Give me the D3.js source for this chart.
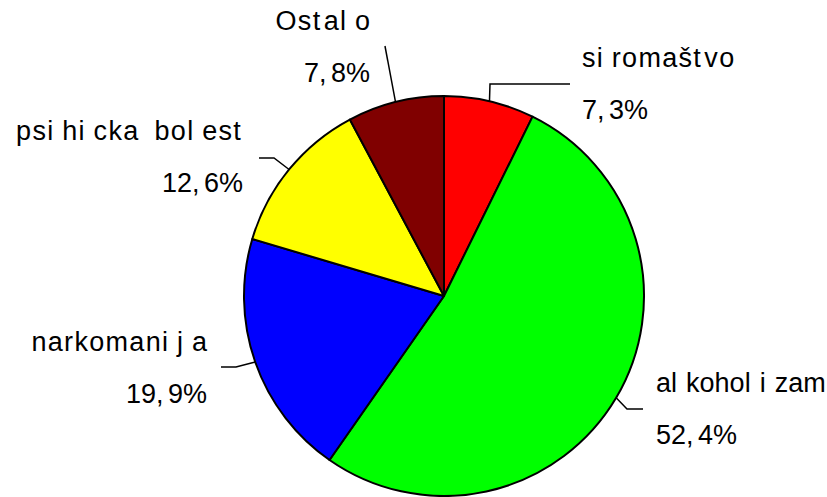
<!DOCTYPE html>
<html>
<head>
<meta charset="utf-8">
<script src="https://cdn.jsdelivr.net/npm/d3@7"></script>
<style>
  body { margin: 0; background: #fff; }
  text { font-family: "Liberation Sans", Arial, sans-serif; font-size: 27px; fill: #000; }
</style>
</head>
<body>
<script>
const categories = ["siromaštvo", "alkoholizam", "narkomanija", "psihicka bolest", "Ostalo"];
const values = [7.3, 52.4, 19.9, 12.6, 7.8];
const colors = ["#ff0000", "#00ff00", "#0000ff", "#ffff00", "#800000"];

// label placement: text anchor side, text x, name baseline, leader elbow points
const labelLayout = [
  { anchor: "start", x: 582, y: 67, leader: [[490, 84], [570, 84]] },
  { anchor: "start", x: 656, y: 392, leader: [[627, 409], [643, 409]] },
  { anchor: "end", x: 207, y: 351, leader: [[236, 367], [221, 367]] },
  { anchor: "end", x: 243, y: 140, leader: [[274, 158], [259, 158]] },
  { anchor: "end", x: 370, y: 30, leader: [[385, 46]] }
];

const width = 827, height = 497;
const cx = 444, cy = 296, r = 200;

const svg = d3.select("body")
  .append("svg")
  .attr("width", width)
  .attr("height", height);

const data = categories.map((c, i) => ({ name: c, value: values[i], color: colors[i] }));

const pie = d3.pie().value((d) => d.value).sort(null);
const arc = d3.arc().innerRadius(0).outerRadius(r);
const arcs = pie(data);

const g = svg.append("g").attr("transform", `translate(${cx},${cy})`);

g.selectAll("path")
  .data(arcs)
  .enter()
  .append("path")
  .attr("d", arc)
  .attr("fill", (d) => d.data.color)
  .attr("stroke", "#000")
  .attr("stroke-width", 2)
  .attr("stroke-linejoin", "round");

// leader lines from rim at mid angle
const line = d3.line();
svg.selectAll("path.leader")
  .data(arcs)
  .enter()
  .append("path")
  .attr("class", "leader")
  .attr("fill", "none")
  .attr("stroke", "#000")
  .attr("stroke-width", 1.5)
  .attr("d", (d, i) => {
    const a = (d.startAngle + d.endAngle) / 2;
    const p0 = [cx + r * Math.sin(a), cy - r * Math.cos(a)];
    return line([p0].concat(labelLayout[i].leader));
  });

const fmt = (v) => v.toFixed(1).replace(".", ",") + "%";

// measure glyph widths
const probe = svg.append("text").attr("x", -1000).attr("y", -1000);
const widthCache = {};
function charWidth(ch) {
  if (widthCache[ch] === undefined) {
    probe.text(ch === " " ? "\u00a0" : ch);
    widthCache[ch] = probe.node().getComputedTextLength();
  }
  return widthCache[ch];
}

// the original renderer pads narrow glyphs out to a wider cell
function advances(chars, spacing, cells) {
  return chars.map((c) => cells[c] !== undefined ? Math.max(charWidth(c), cells[c]) : charWidth(c) + spacing);
}

function drawLabel(str, x, y, anchor, spacing, cells) {
  const chars = Array.from(str);
  let adv = advances(chars, spacing, cells);
  let total = d3.sum(adv) - spacing;
  // keep the text inside the right edge
  while (anchor === "start" && x + total > width - 4 && spacing > 0) {
    spacing = Math.max(0, spacing - 0.1);
    adv = advances(chars, spacing, cells);
    total = d3.sum(adv) - spacing;
  }
  let pos = anchor === "end" ? x - total : x;
  const t = svg.append("text").attr("y", y);
  chars.forEach((c, k) => {
    t.append("tspan").attr("x", pos).text(c === " " ? "\u00a0" : c);
    pos += adv[k];
  });
}

const nameCells = { i: 15, l: 15, j: 15, " ": 15, t: 11 };
const valueCells = { ",": 12 };

arcs.forEach((d, i) => {
  const L = labelLayout[i];
  drawLabel(d.data.name, L.x, L.y, L.anchor, 1.3, nameCells);
  drawLabel(fmt(d.data.value), L.x, L.y + 52, L.anchor, 0, valueCells);
});
probe.remove();
</script>
</body>
</html>
